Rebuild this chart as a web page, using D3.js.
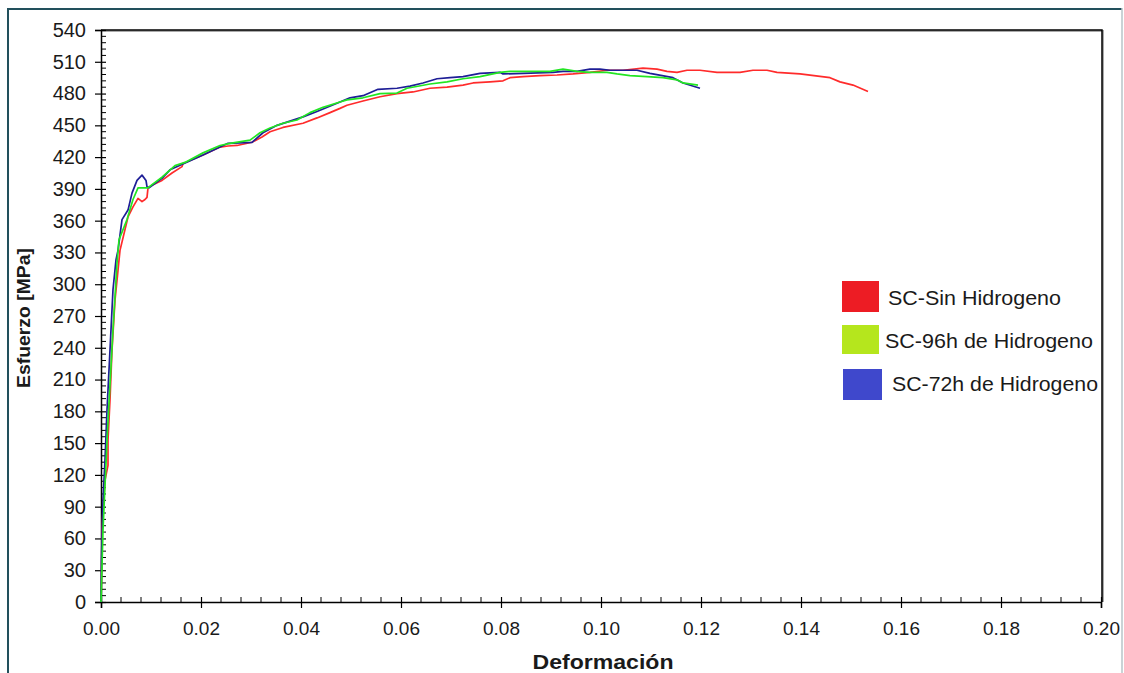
<!DOCTYPE html>
<html>
<head>
<meta charset="utf-8">
<script src="https://cdn.jsdelivr.net/npm/d3@7"></script>
<style>
  body { margin: 0; background: #fff; }
  svg { display: block; }
</style>
</head>
<body>
<svg id="chart" width="1124" height="673"></svg>
<script>
// ejes
var xTicks = [0, 0.02, 0.04, 0.06, 0.08, 0.10, 0.12, 0.14, 0.16, 0.18, 0.20]
var yTicks = [0, 30, 60, 90, 120, 150, 180, 210, 240, 270, 300, 330, 360, 390, 420, 450, 480, 510, 540]

var seriesNames = ['SC-Sin Hidrogeno', 'SC-96h de Hidrogeno', 'SC-72h de Hidrogeno']

// SC-Sin Hidrogeno
var sinStrain = [0, 0.0001, 0.0002, 0.0004, 0.0008, 0.0014, 0.0014, 0.0018, 0.0022, 0.0028, 0.0034, 0.0038,
    0.0054, 0.0064, 0.0074, 0.0082, 0.0088, 0.0092, 0.0094, 0.0104, 0.0122, 0.0142, 0.0162, 0.0164,
    0.0204, 0.0238, 0.0254, 0.0272, 0.0302, 0.0322, 0.0338, 0.0364, 0.0404, 0.0432, 0.0458, 0.0478,
    0.0492, 0.0524, 0.0558, 0.0592, 0.0624, 0.0658, 0.0692, 0.0724, 0.0744, 0.0778, 0.0804, 0.0818,
    0.0844, 0.0878, 0.0912, 0.0944, 0.0978, 0.1012, 0.1044, 0.1084, 0.1112, 0.1132, 0.1152, 0.1172,
    0.1198, 0.1232, 0.1278, 0.1304, 0.1332, 0.1352, 0.1398, 0.1458, 0.1478, 0.1504, 0.1534]
var sinStress = [0, 25, 68, 87, 115, 129, 153, 191, 238, 285, 313, 332,
    363.5, 373, 381, 378, 380, 382, 391, 394, 398, 405, 411, 414,
    422, 429.5, 430.5, 431, 434, 439, 444, 448, 452, 457, 462, 466,
    469, 473, 477, 480, 481.5, 485, 486, 488, 490, 491, 492, 495,
    496, 497, 497.5, 498.5, 500, 502, 502, 504, 503, 501, 500, 502,
    502, 500, 500, 502, 502, 500, 498.5, 495, 491, 488, 482]

// SC-96h de Hidrogeno
var h96Strain = [0, 0.0004, 0.0013, 0.0024, 0.0032, 0.0036, 0.0052, 0.0064, 0.0074, 0.0094, 0.0102,
    0.0122, 0.0148, 0.0168, 0.0204, 0.0238, 0.0258, 0.0298, 0.0318, 0.0338, 0.0364, 0.0392, 0.0418,
    0.0444, 0.0478, 0.0492, 0.0524, 0.0558, 0.0592, 0.0612, 0.0658, 0.0692, 0.0724, 0.0758, 0.0798,
    0.0818, 0.0898, 0.0924, 0.0952, 0.0978, 0.1012, 0.1032, 0.1058, 0.1092, 0.1124, 0.1152, 0.1164, 0.1194]
var h96Stress = [0, 68, 162, 257, 320, 342, 361, 380, 391, 391, 394,
    401, 412, 415, 424, 431, 433, 436, 443, 447.5, 452, 455, 462,
    467, 472, 474, 476, 480, 480.5, 485, 489, 491, 494, 496, 500,
    501, 501, 503, 501, 500, 500, 498.5, 497, 496, 495, 493, 490, 488]

// SC-72h de Hidrogeno
var h72Strain = [0, 0.0001, 0.0004, 0.0008, 0.0012, 0.0016, 0.002, 0.0024, 0.003, 0.0034, 0.0042,
    0.0054, 0.0062, 0.0072, 0.0082, 0.009, 0.0092, 0.0096, 0.0122, 0.0138, 0.0204, 0.0254, 0.0302,
    0.0324, 0.0352, 0.0404, 0.0432, 0.0478, 0.0498, 0.0524, 0.0554, 0.0592, 0.0618, 0.0644, 0.0672,
    0.0698, 0.0724, 0.0758, 0.0798, 0.0804, 0.0844, 0.0904, 0.0924, 0.0952, 0.0978, 0.0998, 0.1018,
    0.1072, 0.1098, 0.1144, 0.1164, 0.1198]
var h72Stress = [0, 40, 96, 134, 181, 219, 257, 295, 323, 332, 361,
    370, 386, 398, 403, 398, 392, 391, 400, 408, 422, 433, 434,
    443, 450, 458, 463, 472, 476, 478, 484, 485, 487, 490, 494,
    495, 496, 499, 500, 498.5, 499, 500, 501, 501, 503, 503, 502,
    502, 499, 495, 490, 485]

var lineColors = ['#ff2b2b', '#22e622', '#1e1e96']
var legendColors = ['#ed1c24', '#b5e61d', '#3f48cc']

var svg = d3.select('#chart')
var plotLeft = 101, plotRight = 1101, plotTop = 30, plotBottom = 602
var fontFam = 'Liberation Sans, Arial, sans-serif'

var xScale = d3.scaleLinear().domain([0, 0.2]).range([plotLeft, plotRight])
var yScale = d3.scaleLinear().domain([0, 540]).range([plotBottom, plotTop])

// marco exterior
svg.append('line').attr('x1', 8).attr('y1', 9).attr('x2', 1122).attr('y2', 9)
    .style('stroke', '#22505c').style('stroke-width', 2)
svg.append('line').attr('x1', 8).attr('y1', 8).attr('x2', 8).attr('y2', 673)
    .style('stroke', '#22505c').style('stroke-width', 2)
svg.append('line').attr('x1', 1122).attr('y1', 8).attr('x2', 1122).attr('y2', 673)
    .style('stroke', '#b8c4c8').style('stroke-width', 1.5)

// borde superior y derecho del area
svg.append('path')
    .attr('d', 'M' + plotLeft + ',' + (plotTop + 1) + 'H' + (plotRight + 2) + 'V' + plotBottom)
    .style('fill', 'none').style('stroke', '#aaa').style('stroke-width', 2)
svg.append('path')
    .attr('d', 'M' + plotLeft + ',' + plotTop + 'H' + (plotRight + 1) + 'V' + plotBottom)
    .style('fill', 'none').style('stroke', '#000').style('stroke-width', 1.5)

// ticks menores
var yMinor = d3.range(0, 541, 6).filter(function (v) { return v % 30 !== 0 })
var xMinor = d3.range(0, 51).map(function (i) { return i * 0.004 }).filter(function (v, i) { return i % 5 !== 0 })

svg.append('g').selectAll('line').data(yMinor).enter().append('line')
    .attr('x1', plotLeft).attr('x2', plotLeft + 5)
    .attr('y1', function (d) { return yScale(d) }).attr('y2', function (d) { return yScale(d) })
    .style('stroke', '#000').style('stroke-width', 1)
svg.append('g').selectAll('line').data(xMinor).enter().append('line')
    .attr('y1', plotBottom).attr('y2', plotBottom - 5)
    .attr('x1', function (d) { return xScale(d) }).attr('x2', function (d) { return xScale(d) })
    .style('stroke', '#000').style('stroke-width', 1)

// eje y
var yAxis = d3.axisLeft(yScale).tickValues(yTicks).tickSize(6).tickPadding(9)
    .tickFormat(d3.format('d'))
var gy = svg.append('g').attr('transform', 'translate(' + plotLeft + ',0)').call(yAxis)
gy.select('.domain').style('stroke', '#000').style('stroke-width', 1.5)
gy.selectAll('.tick line').attr('x2', -6).attr('x1', 5).style('stroke-width', 1.2)
gy.selectAll('.tick text').style('font-family', fontFam)
    .style('font-size', '20px').style('fill', '#1a1a1a')

// eje x
var xAxis = d3.axisBottom(xScale).tickValues(xTicks).tickSize(6).tickPadding(14)
    .tickFormat(d3.format('.2f'))
var gx = svg.append('g').attr('transform', 'translate(0,' + plotBottom + ')').call(xAxis)
gx.select('.domain').style('stroke', '#000').style('stroke-width', 1.5)
gx.selectAll('.tick line').attr('y1', -5).attr('y2', 6).style('stroke-width', 1.2)
gx.selectAll('.tick text').style('font-family', fontFam)
    .style('font-size', '19px').style('fill', '#1a1a1a')

// titulos
svg.append('text').attr('x', 603).attr('y', 669).attr('text-anchor', 'middle')
    .attr('textLength', 141).attr('lengthAdjust', 'spacingAndGlyphs')
    .style('font-family', fontFam).style('font-size', '21px')
    .style('font-weight', 'bold').style('fill', '#1a1a1a')
    .text('Deformación')
svg.append('text').attr('transform', 'translate(30,318) rotate(-90)').attr('text-anchor', 'middle')
    .attr('textLength', 140).attr('lengthAdjust', 'spacingAndGlyphs')
    .style('font-family', fontFam).style('font-size', '19px')
    .style('font-weight', 'bold').style('fill', '#1a1a1a')
    .text('Esfuerzo [MPa]')

// curvas
var lineGen = d3.line()
    .x(function (d) { return xScale(d[0]) })
    .y(function (d) { return yScale(d[1]) })

var curves = [d3.zip(sinStrain, sinStress), d3.zip(h96Strain, h96Stress), d3.zip(h72Strain, h72Stress)]
var drawOrder = [0, 2, 1]
drawOrder.forEach(function (k) {
    svg.append('path')
        .datum(curves[k])
        .attr('d', lineGen)
        .style('fill', 'none')
        .style('stroke', lineColors[k])
        .style('stroke-width', 1.7)
        .style('stroke-linejoin', 'round')
})

// leyenda
var legendBoxes = [[842, 281, 37, 31], [842, 325, 37, 29], [843, 369, 39, 31]]
var legendText = [[888, 305, 173], [885, 348, 208], [892, 391, 206]]
var legend = svg.append('g')
legend.selectAll('rect').data(seriesNames).enter().append('rect')
    .attr('x', function (d, i) { return legendBoxes[i][0] })
    .attr('y', function (d, i) { return legendBoxes[i][1] })
    .attr('width', function (d, i) { return legendBoxes[i][2] })
    .attr('height', function (d, i) { return legendBoxes[i][3] })
    .style('fill', function (d, i) { return legendColors[i] })
legend.selectAll('text').data(seriesNames).enter().append('text')
    .attr('x', function (d, i) { return legendText[i][0] })
    .attr('y', function (d, i) { return legendText[i][1] })
    .attr('textLength', function (d, i) { return legendText[i][2] })
    .attr('lengthAdjust', 'spacingAndGlyphs')
    .style('font-family', fontFam).style('font-size', '21px')
    .style('fill', '#1a1a1a')
    .text(function (d) { return d })
</script>
</body>
</html>
